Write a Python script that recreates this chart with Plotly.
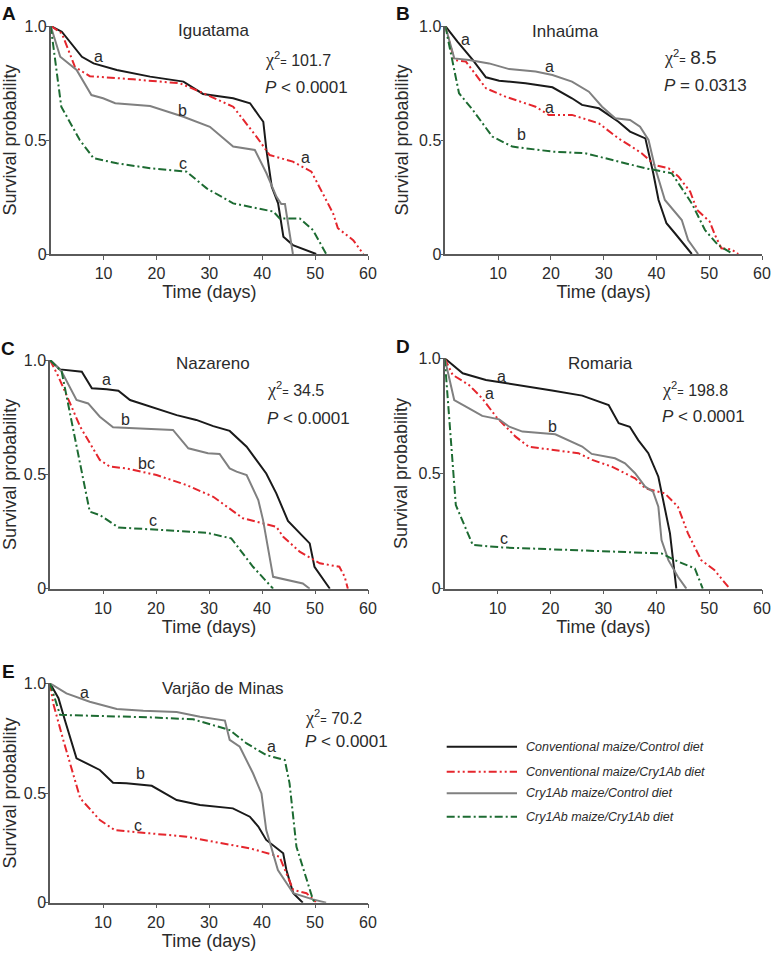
import plotly.graph_objects as go

# Kaplan-Meier style survival curves
series_names = ["Conventional maize/Control diet", "Conventional maize/Cry1Ab diet",
                "Cry1Ab maize/Control diet", "Cry1Ab maize/Cry1Ab diet"]
line_colors = ["#1a1a1a", "#e5262d", "#808080", "#1d6b32"]
line_dashes = ["solid", "8px,3px,2px,3px,2px,3px", "solid", "8px,3px,2px,3px"]

# Panel A - Iguatama
a_ctrl_x = [0, 2.1, 5.9, 8.1, 12.5, 18.8, 25.1, 28.8, 34.5, 37.7, 39.5, 40.2, 40.8, 41.8, 43, 44, 45.8, 50.2]
a_ctrl_y = [1, 0.975, 0.865, 0.836, 0.807, 0.778, 0.756, 0.702, 0.683, 0.661, 0.602, 0.58, 0.456, 0.295, 0.222, 0.076, 0.039, 0]
a_conv_bt_x = [0, 2.1, 4.6, 7.4, 15.6, 24.4, 28.2, 34.5, 38.9, 41.4, 45.8, 49.3, 53.4, 54.3, 57.2, 59.1]
a_conv_bt_y = [1, 0.968, 0.82, 0.78, 0.766, 0.749, 0.712, 0.646, 0.515, 0.434, 0.405, 0.361, 0.178, 0.113, 0.061, 0]
a_bt_ctrl_x = [0, 1.8, 4.9, 7.7, 9.9, 12.2, 18.8, 25.1, 30.1, 34.5, 38.6, 40.8, 42.7, 43.6, 44.3, 45.8]
a_bt_ctrl_y = [1, 0.865, 0.807, 0.697, 0.683, 0.661, 0.649, 0.602, 0.558, 0.471, 0.456, 0.354, 0.251, 0.219, 0.219, 0]
a_bt_bt_x = [0, 2, 5.5, 8.1, 12.5, 18.8, 25.7, 29.5, 34.5, 42.1, 43.3, 47.1, 49.6, 52.1]
a_bt_bt_y = [1, 0.646, 0.5, 0.42, 0.398, 0.376, 0.361, 0.288, 0.222, 0.186, 0.156, 0.156, 0.105, 0]

# Panel B - Inhaúma
b_ctrl_x = [0, 2.3, 5.2, 7.7, 10.2, 15.2, 20.3, 24, 25.9, 29.1, 32.8, 35, 37.9, 39.4, 40.4, 41.9, 43.5, 46.7]
b_ctrl_y = [1, 0.931, 0.851, 0.775, 0.76, 0.749, 0.731, 0.683, 0.654, 0.639, 0.58, 0.537, 0.507, 0.354, 0.237, 0.135, 0.091, 0]
b_conv_bt_x = [0, 1.7, 3.9, 7.7, 11.4, 17.1, 19.6, 24, 29.1, 32.8, 35.3, 37.2, 39.7, 42.3, 44.2, 46.4, 47.7, 50.1, 51.1, 52.3, 54.2, 55.5]
b_conv_bt_y = [1, 0.851, 0.844, 0.727, 0.69, 0.646, 0.61, 0.61, 0.573, 0.507, 0.471, 0.442, 0.39, 0.376, 0.339, 0.273, 0.193, 0.142, 0.083, 0.025, 0.02, 0]
b_bt_ctrl_x = [0, 1.7, 4.5, 8.3, 12.1, 17.1, 20.3, 24, 27.2, 29.7, 32.2, 35, 36.9, 38.5, 39.7, 41.6, 44.8, 46, 47.9]
b_bt_ctrl_y = [1, 0.858, 0.851, 0.836, 0.811, 0.8, 0.785, 0.756, 0.712, 0.646, 0.595, 0.588, 0.558, 0.5, 0.383, 0.237, 0.149, 0.061, 0]
b_bt_bt_x = [0, 1.4, 2.6, 5.2, 8.9, 12.7, 20.3, 26.5, 32.8, 37.9, 42.9, 45.4, 46.7, 49.2, 51.7, 54.5]
b_bt_bt_y = [1, 0.836, 0.705, 0.632, 0.515, 0.471, 0.449, 0.442, 0.405, 0.376, 0.354, 0.266, 0.222, 0.105, 0.039, 0]

# Panel C - Nazareno
c_ctrl_x = [0, 1.9, 6, 7.9, 10.7, 12.9, 15.1, 18.8, 23.9, 27.6, 30.8, 33.9, 37.1, 40.8, 42.7, 44.9, 47.1, 49, 49.9, 51.2, 52.8]
c_ctrl_y = [1, 0.959, 0.949, 0.876, 0.872, 0.866, 0.825, 0.796, 0.759, 0.738, 0.711, 0.69, 0.621, 0.504, 0.417, 0.296, 0.242, 0.198, 0.096, 0.052, 0]
c_conv_bt_x = [0, 1.6, 3.8, 5.7, 9.4, 11.3, 14.4, 20.1, 25.8, 30.8, 36.4, 40.2, 42.7, 44, 47.1, 50.9, 54.6, 55.6, 56.2]
c_conv_bt_y = [1, 0.927, 0.81, 0.708, 0.563, 0.534, 0.526, 0.497, 0.453, 0.402, 0.308, 0.286, 0.271, 0.227, 0.162, 0.111, 0.096, 0.052, 0]
c_bt_ctrl_x = [0, 2.2, 5, 7.2, 9.4, 11.9, 17, 23.2, 26.1, 29.8, 32, 33.9, 35.2, 37.1, 39.3, 40.2, 42.1, 47.7, 49]
c_bt_ctrl_y = [1, 0.949, 0.825, 0.81, 0.752, 0.706, 0.701, 0.694, 0.614, 0.592, 0.589, 0.526, 0.512, 0.497, 0.388, 0.3, 0.052, 0.023, 0]
c_bt_bt_x = [0, 2.2, 4.4, 7.5, 9.4, 12.9, 15.7, 23.2, 29.5, 34.2, 38.3, 42.1]
c_bt_bt_y = [1, 0.949, 0.694, 0.337, 0.322, 0.268, 0.264, 0.252, 0.245, 0.22, 0.096, 0]

# Panel D - Romaria
d_ctrl_x = [0, 3.4, 7.8, 14, 20.3, 26, 31, 32.9, 35, 36.6, 38.5, 40.4, 41.3, 42.6, 43.8]
d_ctrl_y = [1, 0.935, 0.906, 0.884, 0.86, 0.838, 0.797, 0.718, 0.703, 0.645, 0.588, 0.486, 0.385, 0.24, 0]
d_conv_bt_x = [0, 1.5, 4.6, 7.1, 9.7, 13.4, 15.9, 20.3, 25.3, 27.9, 31.6, 36, 37.9, 41.6, 44.1, 46, 48.5, 51, 53.9]
d_conv_bt_y = [1, 0.928, 0.884, 0.826, 0.747, 0.66, 0.616, 0.602, 0.588, 0.559, 0.53, 0.479, 0.436, 0.414, 0.356, 0.24, 0.124, 0.081, 0]
d_bt_ctrl_x = [0, 1.8, 4.6, 7.1, 10.3, 12.2, 14.7, 20.9, 26, 27.8, 32.2, 34.1, 36, 37.9, 39.4, 40.4, 41, 42.3, 44.1, 45.7]
d_bt_ctrl_y = [1, 0.819, 0.783, 0.75, 0.735, 0.703, 0.682, 0.67, 0.617, 0.585, 0.566, 0.544, 0.501, 0.443, 0.421, 0.356, 0.211, 0.124, 0.052, 0]
d_bt_bt_x = [0, 1.2, 2.1, 5.3, 10.9, 20.3, 32.9, 41, 43.5, 47.3, 48.8]
d_bt_bt_y = [1, 0.645, 0.363, 0.19, 0.179, 0.171, 0.161, 0.153, 0.124, 0.088, 0]

# Panel E - Varjão de Minas
e_ctrl_x = [0, 1.6, 2.8, 5, 9.4, 11.9, 14.4, 19.2, 23.9, 28.3, 34.5, 37.7, 39.3, 40.8, 44, 44.6, 45.9, 47.7]
e_ctrl_y = [1, 0.932, 0.833, 0.658, 0.605, 0.547, 0.544, 0.533, 0.468, 0.445, 0.43, 0.392, 0.347, 0.286, 0.225, 0.149, 0.043, 0]
e_conv_bt_x = [0, 0.6, 2.5, 5.7, 9.4, 12.2, 18.8, 25.8, 30.8, 37.7, 43.3, 45.2, 45.9, 48.4, 50.3]
e_conv_bt_y = [1, 0.909, 0.742, 0.476, 0.377, 0.331, 0.316, 0.301, 0.278, 0.248, 0.21, 0.103, 0.058, 0.043, 0]
e_bt_ctrl_x = [0, 3.1, 7.5, 12.6, 17.6, 23.9, 28.3, 33, 33.9, 35.8, 38.3, 39.9, 40.8, 43, 45.9, 49.6, 52.1]
e_bt_ctrl_y = [1, 0.954, 0.916, 0.883, 0.875, 0.869, 0.848, 0.83, 0.742, 0.711, 0.59, 0.498, 0.331, 0.149, 0.043, 0.015, 0]
e_bt_bt_x = [0, 0.9, 1.9, 9.4, 18.8, 27, 30.8, 33.9, 37.1, 40.8, 44.3, 45.2, 46.5, 49.6, 50]
e_bt_bt_y = [1, 0.932, 0.856, 0.851, 0.845, 0.836, 0.81, 0.787, 0.726, 0.673, 0.65, 0.544, 0.255, 0.015, 0]

panel_letters = ["A", "B", "C", "D", "E"]
panel_titles = ["Iguatama", "Inhaúma", "Nazareno", "Romaria", "Varjão de Minas"]
chi_values = ["101.7", "8.5", "34.5", "198.8", "70.2"]
p_values = ["<i>P</i> < 0.0001", "<i>P</i> = 0.0313", "<i>P</i> < 0.0001", "<i>P</i> < 0.0001", "<i>P</i> < 0.0001"]

panel_curves = [
    [(a_ctrl_x, a_ctrl_y), (a_conv_bt_x, a_conv_bt_y), (a_bt_ctrl_x, a_bt_ctrl_y), (a_bt_bt_x, a_bt_bt_y)],
    [(b_ctrl_x, b_ctrl_y), (b_conv_bt_x, b_conv_bt_y), (b_bt_ctrl_x, b_bt_ctrl_y), (b_bt_bt_x, b_bt_bt_y)],
    [(c_ctrl_x, c_ctrl_y), (c_conv_bt_x, c_conv_bt_y), (c_bt_ctrl_x, c_bt_ctrl_y), (c_bt_bt_x, c_bt_bt_y)],
    [(d_ctrl_x, d_ctrl_y), (d_conv_bt_x, d_conv_bt_y), (d_bt_ctrl_x, d_bt_ctrl_y), (d_bt_bt_x, d_bt_bt_y)],
    [(e_ctrl_x, e_ctrl_y), (e_conv_bt_x, e_conv_bt_y), (e_bt_ctrl_x, e_bt_ctrl_y), (e_bt_bt_x, e_bt_bt_y)],
]

# significance letters: (text, x, y) per panel
sig_letters = [
    [("a", 9, 0.865), ("b", 24.9, 0.629), ("c", 25.1, 0.398), ("a", 48.2, 0.424)],
    [("a", 3.8, 0.94), ("a", 19.8, 0.822), ("a", 19.8, 0.643), ("b", 14.5, 0.522)],
    [("a", 10.6, 0.913), ("b", 14.3, 0.738), ("bc", 18.2, 0.548), ("c", 19.5, 0.3)],
    [("a", 10.8, 0.923), ("a", 8.4, 0.848), ("b", 20.3, 0.703), ("c", 11.2, 0.219)],
    [("a", 6.6, 0.96), ("a", 41.8, 0.714), ("b", 17, 0.587), ("c", 16.6, 0.354)],
]
title_pos = [(30.7, 0.98), (22.8, 0.975), (30.8, 0.985), (29.4, 0.978), (32.7, 0.977)]
stat_pos = [(40.2, 0.854, 0.731), (41, 0.863, 0.741), (40.5, 0.872, 0.745), (40.7, 0.865, 0.747), (47.7, 0.845, 0.734)]

W, H = 772, 960
# pixel boxes of the plot areas: (left, right, top, bottom)
boxes = [(50.7, 368, 26, 254), (445.3, 762, 26, 254), (50, 368, 360, 588.7),
         (444.7, 762, 358.3, 588.7), (50, 368, 683.3, 902.7)]

FONT = "Liberation Sans, Arial, sans-serif"
TXT = "#2b2b2b"
AX = "#5a5a5a"

fig = go.Figure()
layout = dict(width=W, height=H, margin=dict(l=0, r=0, t=0, b=0, autoexpand=False),
              paper_bgcolor="white", plot_bgcolor="white", showlegend=False,
              font=dict(family=FONT, color=TXT))
annotations = []

for p in range(5):
    sfx = "" if p == 0 else str(p + 1)
    l, r, t, b = boxes[p]
    axis_common = dict(showgrid=False, zeroline=False, showline=True, linecolor=AX, linewidth=1.5,
                       ticks="outside", tickwidth=1.2, tickcolor=AX, automargin=False,
                       tickfont=dict(size=16, family=FONT, color=TXT), fixedrange=True)
    layout["xaxis" + sfx] = dict(axis_common, domain=[l / W, r / W], range=[0, 60], ticklen=4,
                                 tickvals=[10, 20, 30, 40, 50, 60], anchor="y" + sfx,
                                 title=dict(text="Time (days)", font=dict(size=18, family=FONT, color=TXT), standoff=4))
    layout["yaxis" + sfx] = dict(axis_common, domain=[1 - b / H, 1 - t / H], range=[0, 1], ticklen=3,
                                 ticklabelstandoff=-4,
                                 tickvals=[0, 0.5, 1.0], ticktext=["0", "0.5", "1.0"], anchor="x" + sfx,
                                 title=dict(text="Survival probability", font=dict(size=18, family=FONT, color=TXT), standoff=6))
    for s, (xs, ys) in enumerate(panel_curves[p]):
        fig.add_trace(go.Scatter(x=xs, y=ys, mode="lines", name=series_names[s],
                                 line=dict(color=line_colors[s], width=2, dash=line_dashes[s]),
                                 xaxis="x" + sfx, yaxis="y" + sfx, cliponaxis=False))
    xr, yr = "x" + sfx, "y" + sfx
    for txt, lx, ly in sig_letters[p]:
        annotations.append(dict(x=lx, y=ly, xref=xr, yref=yr, text=txt, showarrow=False,
                                font=dict(size=16, family=FONT, color=TXT)))
    tx, ty = title_pos[p]
    annotations.append(dict(x=tx, y=ty, xref=xr, yref=yr, text=panel_titles[p], showarrow=False,
                            font=dict(size=17, family=FONT, color=TXT)))
    sx, cy, py = stat_pos[p]
    chi_size = 19 if p == 1 else 16
    annotations.append(dict(x=sx, y=cy, xref=xr, yref=yr, xanchor="left", showarrow=False,
                            text=f"<span style='font-family:Liberation Serif;font-size:18px'>χ</span><sup>2</sup>"
                                 f"<span style='font-size:11px'>=</span> <span style='font-size:{chi_size}px'>{chi_values[p]}</span>",
                            font=dict(size=16, family=FONT, color=TXT)))
    annotations.append(dict(x=sx, y=py, xref=xr, yref=yr, xanchor="left", showarrow=False,
                            text=p_values[p], font=dict(size=17, family=FONT, color=TXT)))
    annotations.append(dict(x=(l - 42) / W, y=1 - (t - 12) / H, xref="paper", yref="paper",
                            xanchor="center", yanchor="middle", text=f"<b>{panel_letters[p]}</b>", showarrow=False,
                            font=dict(size=19, family=FONT, color="#111111")))

# legend drawn as line samples plus italic labels
legend_rows = [746.7, 771.7, 793.3, 816.7]
shapes = []
for s in range(4):
    yy = 1 - legend_rows[s] / H
    shapes.append(dict(type="line", xref="paper", yref="paper", x0=446.7 / W, x1=517 / W, y0=yy, y1=yy,
                       line=dict(color=line_colors[s], width=2, dash=line_dashes[s])))
    annotations.append(dict(x=524 / W, y=yy, xref="paper", yref="paper", xanchor="left", yanchor="middle",
                            text=f"<i>{series_names[s]}</i>", showarrow=False,
                            font=dict(size=12.5, family=FONT, color=TXT)))

layout["annotations"] = annotations
layout["shapes"] = shapes
fig.update_layout(**layout)

# the page body has a default 8px margin; remove it so the figure sits at the window origin
fig.write_html("out.html", config={"displayModeBar": False},
               post_script="document.body.style.margin='0';")
